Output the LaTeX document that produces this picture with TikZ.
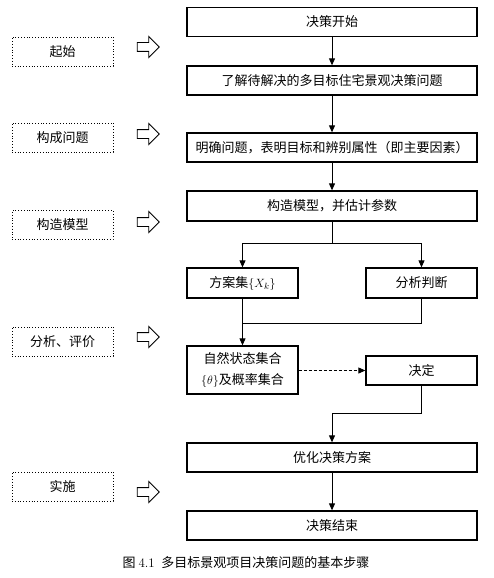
\documentclass[tikz,border=0pt]{standalone}
\usepackage{fontspec}
\newfontfamily\cjk{Noto Sans CJK SC}
\usetikzlibrary{arrows.meta,shapes.arrows}

\begin{document}
\begin{tikzpicture}[x=1pt,y=-1pt,
    stepbox/.style={draw,line width=1.3pt,minimum height=29pt,inner sep=0pt,font=\fontsize{13}{16}\cjk},
    wide/.style={stepbox,minimum width=290pt},
    half/.style={stepbox,minimum width=111pt},
    phase/.style={draw,dotted,line width=0.8pt,minimum width=101pt,minimum height=29pt,inner sep=0pt,font=\fontsize{13}{16}\cjk},
    hollow/.style={draw,line width=0.9pt,single arrow,single arrow head extend=6pt,minimum height=22pt,inner xsep=0pt,inner ysep=4pt,text width=0pt,text height=0pt,text depth=0pt},
    link/.style={line width=0.9pt,-{Triangle[length=7pt,width=6pt]}},
    joint/.style={line width=0.9pt}]
    \useasboundingbox (0,0) rectangle (493,578);

    \node[wide] (start) at (332,22) {决策开始};
    \node[wide] (learn) at (332,80.5) {了解待解决的多目标住宅景观决策问题};
    \node[wide] (clarify) at (332,147.5) {明确问题，表明目标和辨别属性（即主要因素）};
    \node[wide,minimum height=30pt] (model) at (332,206) {构造模型，并估计参数};

    \node[half,minimum height=30pt] (plan) at (242.5,283) {方案集$\{X_k\}$};
    \node[half,minimum height=30pt] (judge) at (421.5,283) {分析判断};
    \node[half,minimum height=48pt,align=center,font=\fontsize{13}{21}\cjk] (nature) at (242.5,370) {自然状态集合\\$\{\theta\}$及概率集合};
    \node[half] (decide) at (421.5,370.5) {决定};

    \node[wide] (optim) at (332,457.5) {优化决策方案};
    \node[wide] (finish) at (332,525.5) {决策结束};

    \node[phase] (p1) at (62.5,51.5) {起始};
    \node[phase] (p2) at (62.5,137.5) {构成问题};
    \node[phase] (p3) at (62.5,225) {构造模型};
    \node[phase] (p4) at (62.5,341.5) {分析、评价};
    \node[phase] (p5) at (62.5,486.5) {实施};

    \node[hollow] (a1) at (146,47) {};
    \node[hollow] (a2) at (146,134) {};
    \node[hollow] (a3) at (146,222) {};
    \node[hollow] (a4) at (146,337) {};
    \node[hollow] (a5) at (146,492) {};

    \draw[link] (start) -- (learn);
    \draw[link] (learn) -- (clarify);
    \draw[link] (clarify) -- (model);

    \coordinate (split) at (332,243);
    \draw[joint] (model) -- (split);
    \draw[link] (split) -| (plan);
    \draw[link] (split) -| (judge);

    \coordinate (merge) at (242.5,323);
    \draw[joint] (judge.south) |- (merge);
    \draw[link] (plan) -- (nature);
    \draw[link,densely dashed] (nature.east |- decide) -- (decide.west);

    \coordinate (join) at (332,413);
    \draw[joint] (decide.south) |- (join);
    \draw[link] (join) -- (optim);
    \draw[link] (optim) -- (finish);

    \node[font=\fontsize{13}{16}\cjk] (caption) at (246,563) {图 {\rmfamily 4.1}\enspace 多目标景观项目决策问题的基本步骤};

\end{tikzpicture}
\end{document}
